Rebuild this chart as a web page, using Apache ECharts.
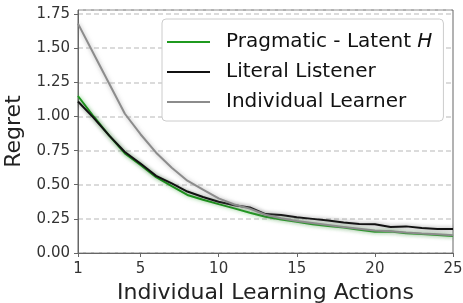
<!DOCTYPE html>
<html>
<head>
<meta charset="utf-8">
<script src="https://cdn.jsdelivr.net/npm/echarts@6/dist/echarts.min.js"></script>
<style>
  html, body { margin: 0; padding: 0; background: #fff; }
  #main { width: 463px; height: 303px; }
</style>
</head>
<body>
<div id="main"></div>
<script>
// x = number of individual learning actions
const actions = [1, 2, 3, 4, 5, 6, 7, 8, 9, 10, 11, 12, 13, 14, 15, 16, 17, 18, 19, 20, 21, 22, 23, 24, 25]
const pragmatic = [1.15, 1.00, 0.86, 0.73, 0.645, 0.555, 0.49, 0.425, 0.39, 0.358, 0.327, 0.295, 0.266, 0.246, 0.229, 0.21, 0.198, 0.186, 0.17, 0.155, 0.157, 0.145, 0.14, 0.132, 0.124]
const literal = [1.11, 0.99, 0.86, 0.74, 0.655, 0.565, 0.51, 0.45, 0.41, 0.376, 0.35, 0.334, 0.285, 0.278, 0.262, 0.25, 0.238, 0.224, 0.212, 0.21, 0.19, 0.195, 0.183, 0.176, 0.175]
const individual = [1.68, 1.46, 1.24, 1.02, 0.87, 0.735, 0.625, 0.53, 0.465, 0.40, 0.355, 0.325, 0.28, 0.255, 0.235, 0.22, 0.205, 0.19, 0.178, 0.165, 0.16, 0.15, 0.143, 0.137, 0.13]
const xTicks = [1, 5, 10, 15, 20, 25]

const font = 'DejaVu Sans'

function pairs (ys) {
  return actions.map((x, i) => [x, ys[i]])
}

function lineSeries (name, ys, color, glow) {
  return {
    name: name,
    type: 'line',
    data: pairs(ys),
    symbol: 'none',
    lineStyle: { color: color, width: 2, shadowColor: glow, shadowBlur: 4 },
    itemStyle: { color: color }
  }
}

const myChart = echarts.init(document.getElementById('main'))
const option = {
  animation: false,
  textStyle: { fontFamily: font },
  grid: {
    left: 78, right: 10, top: 10, bottom: 50,
    containLabel: false, outerBoundsMode: 'none',
    show: true, borderColor: '#666', borderWidth: 1
  },
  legend: {
    orient: 'vertical',
    left: 162,
    top: 19,
    padding: [13, 11, 9, 5],
    itemWidth: 43,
    itemHeight: 2,
    itemGap: 10,
    icon: 'rect',
    backgroundColor: '#fff',
    borderColor: '#ccc',
    borderWidth: 1,
    borderRadius: 4,
    data: ['Pragmatic - Latent H', 'Literal Listener', 'Individual Learner'],
    formatter: function (name) {
      if (name === 'Pragmatic - Latent H') return 'Pragmatic - Latent {i|H}'
      return name
    },
    textStyle: {
      fontFamily: font, fontSize: 20, color: '#111', lineHeight: 20, padding: [0, 0, 0, 11],
      rich: { i: { fontFamily: font, fontSize: 20, fontStyle: 'italic', color: '#111' } }
    }
  },
  xAxis: {
    type: 'value',
    min: 1,
    max: 25,
    name: 'Individual Learning Actions',
    nameLocation: 'middle',
    nameGap: 28,
    nameTextStyle: { fontFamily: font, fontSize: 22, color: '#222' },
    axisLine: { show: true, lineStyle: { color: '#666' } },
    axisTick: { show: true, inside: false, length: 4, customValues: xTicks, lineStyle: { color: '#666' } },
    axisLabel: { customValues: xTicks, fontFamily: font, fontSize: 15, color: '#333', margin: 9 },
    splitLine: { show: false }
  },
  yAxis: {
    type: 'value',
    min: 0,
    max: 1.78,
    interval: 0.25,
    name: 'Regret',
    nameLocation: 'middle',
    nameGap: 44,
    nameTextStyle: { fontFamily: font, fontSize: 22, color: '#222' },
    axisLine: { show: true, lineStyle: { color: '#666' } },
    axisTick: { show: true, length: 4, lineStyle: { color: '#666' } },
    axisLabel: {
      fontFamily: font, fontSize: 15, color: '#333', margin: 8, showMaxLabel: false,
      formatter: v => v.toFixed(2)
    },
    splitLine: { show: true, lineStyle: { color: '#d0d0d0', type: [5, 3], width: 1.5 } }
  },
  series: [
    lineSeries('Pragmatic - Latent H', pragmatic, '#1f9a1f', 'rgba(40,170,40,0.6)'),
    lineSeries('Literal Listener', literal, '#111111', 'rgba(0,0,0,0.45)'),
    lineSeries('Individual Learner', individual, '#8c8c8c', 'rgba(130,130,130,0.6)')
  ]
}
myChart.setOption(option)
</script>
</body>
</html>
